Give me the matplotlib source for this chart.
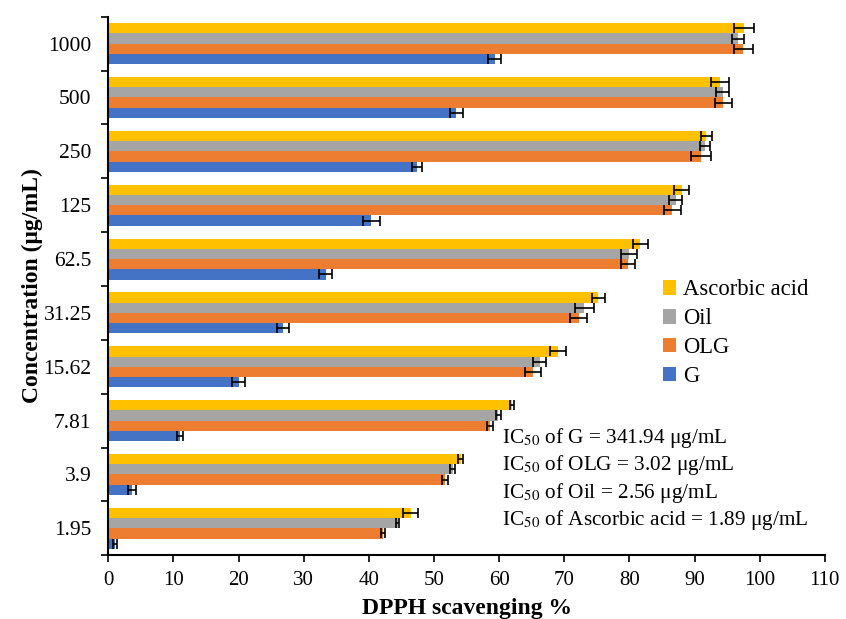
import matplotlib
matplotlib.use("Agg")
import matplotlib.pyplot as plt
import numpy as np

plt.rcParams['font.family'] = ['Liberation Serif', 'DejaVu Serif']
plt.rcParams['mathtext.fontset'] = 'stix'

conc = ["1.95", "3.9", "7.81", "15.62", "31.25", "62.5", "125", "250", "500", "1000"]

g = [1.1, 3.7, 11.0, 20.0, 26.8, 33.4, 40.4, 47.4, 53.4, 59.3]
g_err = [0.3, 0.6, 0.4, 1.0, 0.9, 1.0, 1.3, 0.8, 1.0, 1.0]
olg = [42.2, 51.7, 58.6, 65.2, 72.2, 79.8, 86.6, 91.0, 94.4, 97.5]
olg_err = [0.3, 0.4, 0.4, 1.3, 1.3, 1.1, 1.3, 1.5, 1.3, 1.5]
oil = [44.4, 52.9, 59.9, 66.2, 73.1, 79.9, 87.1, 91.6, 94.3, 96.7]
oil_err = [0.3, 0.4, 0.4, 1.0, 1.5, 1.2, 1.0, 0.8, 1.0, 0.9]
asc = [46.4, 54.1, 62.0, 69.0, 75.2, 81.7, 88.0, 91.8, 93.9, 97.6]
asc_err = [1.2, 0.4, 0.3, 1.2, 1.0, 1.2, 1.2, 0.8, 1.4, 1.5]

ic50_lines = ["IC$_{50}$ of G = 341.94 μg/mL",
              "IC$_{50}$ of OLG = 3.02 μg/mL",
              "IC$_{50}$ of Oil = 2.56 μg/mL",
              "IC$_{50}$ of Ascorbic acid = 1.89 μg/mL"]

series = [("G", g, g_err, "#4472C4"),
          ("OLG", olg, olg_err, "#ED7D31"),
          ("Oil", oil, oil_err, "#A5A5A5"),
          ("Ascorbic acid", asc, asc_err, "#FFC000")]

fig = plt.figure(figsize=(8.46, 6.19), dpi=100)
ax = fig.add_axes([0.128, 0.103, 0.847, 0.87])

y = np.arange(len(conc))
h = 0.19
handles = []
for i, (name, vals, errs, col) in enumerate(series):
    pos = y + (i - 1.5) * h
    b = ax.barh(pos, vals, height=h, color=col, label=name,
                xerr=errs, error_kw=dict(ecolor='black', elinewidth=1.2, capsize=3.5, capthick=1.2))
    handles.append(b)

ax.set_xlim(0, 110)
ax.set_ylim(-0.5, len(conc) - 0.5)
ax.set_xticks(np.arange(0, 111, 10))
ax.set_yticks(y)
ax.set_yticklabels(conc)
ax.set_yticks(np.arange(-0.5, len(conc), 1), minor=True)
ax.tick_params(axis='y', which='major', length=0, labelsize=15.5, pad=12)
ax.tick_params(axis='y', which='minor', length=5, width=1.2)
ax.tick_params(axis='x', which='major', length=5, width=1.2, labelsize=15, pad=6)

for s in ['top', 'right']:
    ax.spines[s].set_visible(False)
for s in ['left', 'bottom']:
    ax.spines[s].set_linewidth(1.5)

ax.set_xlabel("DPPH scavenging %", fontsize=17, fontweight='bold', labelpad=6)
ax.set_ylabel("Concentration (μg/mL)", fontsize=17, fontweight='bold', labelpad=0)

leg = ax.legend(handles[::-1], [s[0] for s in series][::-1], loc='upper left',
                bbox_to_anchor=(0.745, 0.55), frameon=False, fontsize=16.3,
                handlelength=0.6, handleheight=0.6, handletextpad=0.3,
                labelspacing=0.35)

for k, txt in enumerate(ic50_lines):
    ax.text(0.549, 0.218 - k * 0.051, txt, transform=ax.transAxes,
            fontsize=15.3, va='center', ha='left')

plt.savefig("out.png", dpi=100)
